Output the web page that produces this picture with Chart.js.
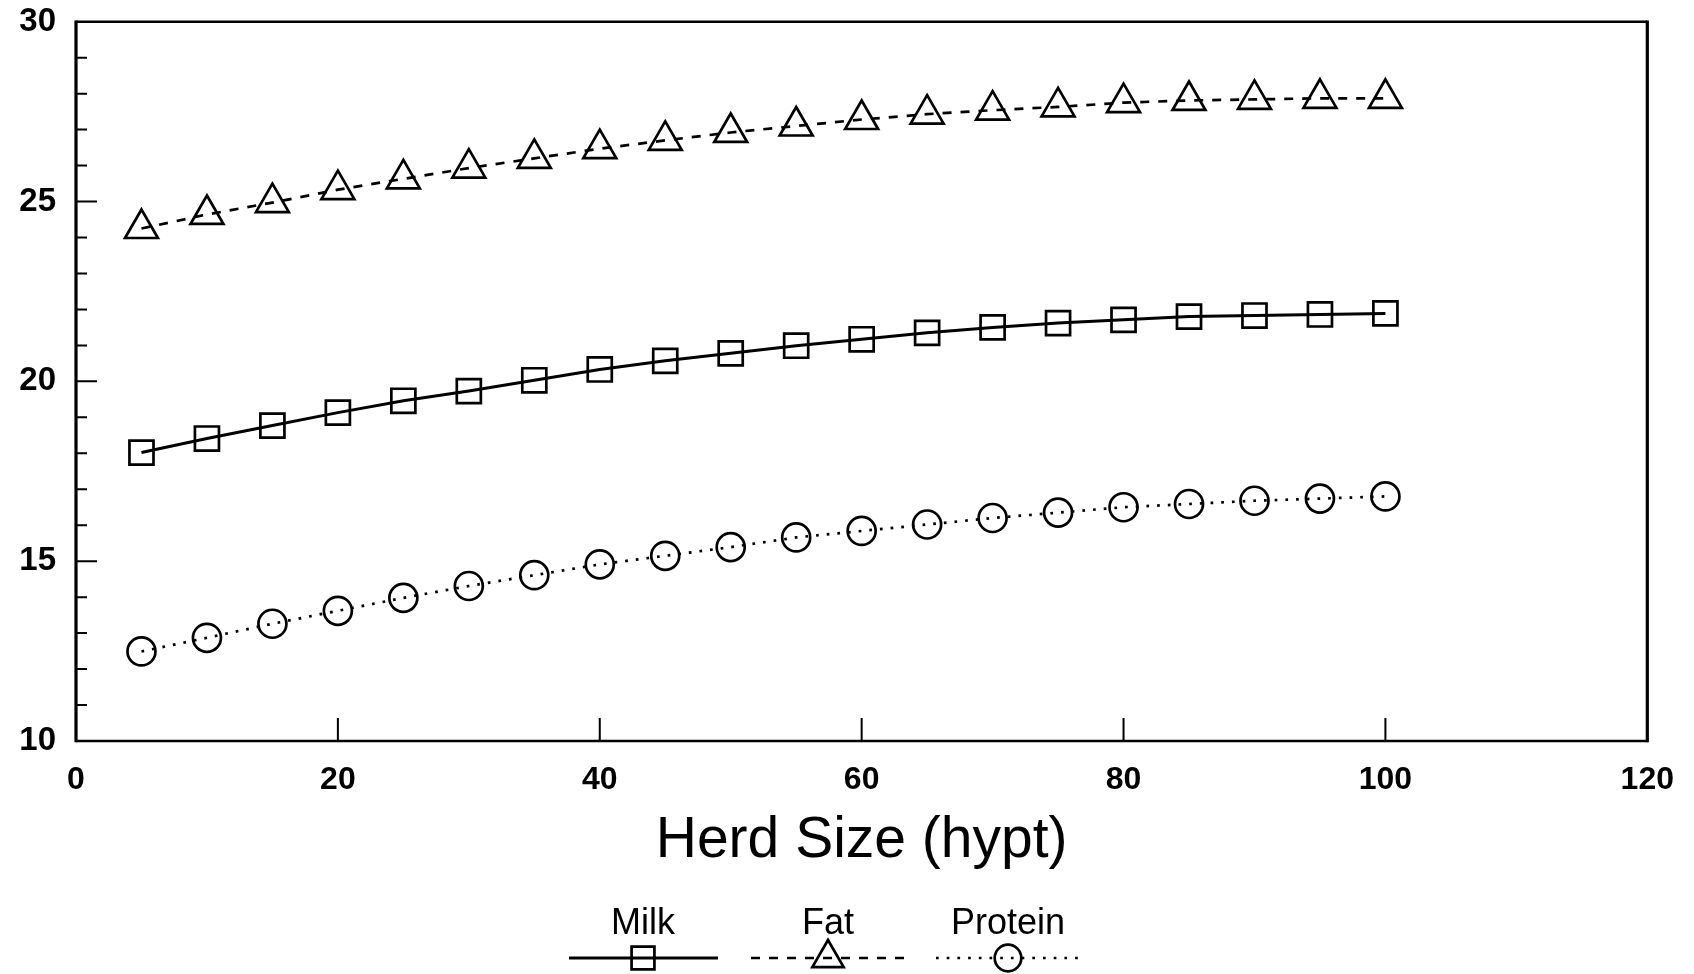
<!DOCTYPE html>
<html>
<head>
<meta charset="utf-8">
<script src="https://cdn.jsdelivr.net/npm/chart.js@4.4.1/dist/chart.umd.min.js"></script>
<style>
  html, body { margin: 0; padding: 0; background: #fff; }
  #wrap { width: 1694px; height: 974px; position: relative; }
</style>
</head>
<body>
<div id="wrap"><canvas id="c" width="1694" height="974"></canvas></div>
<script>
const herdSize = [5,10,15,20,25,30,35,40,45,50,55,60,65,70,75,80,85,90,95,100];
const milk    = [18.02,18.41,18.77,19.13,19.46,19.73,20.03,20.33,20.57,20.78,20.99,21.17,21.35,21.50,21.62,21.71,21.80,21.83,21.86,21.89];
const fat     = [24.25,24.64,24.97,25.33,25.63,25.93,26.20,26.47,26.70,26.92,27.10,27.28,27.43,27.54,27.63,27.75,27.81,27.84,27.87,27.87];
const protein = [12.49,12.87,13.26,13.62,13.98,14.31,14.61,14.91,15.15,15.39,15.66,15.84,16.02,16.20,16.35,16.50,16.59,16.68,16.74,16.80];
const seriesNames = ['Milk','Fat','Protein'];
const xTitle = 'Herd Size (hypt)';
const xTicks = [0,20,40,60,80,100,120];
const yTicks = [10,15,20,25,30];

const FONT = '"Liberation Sans", Arial, Helvetica, sans-serif';
const toPts = (ys) => herdSize.map((x, i) => ({x, y: ys[i]}));

const ds = [
  { label: seriesNames[0], data: toPts(milk), borderColor: '#000', borderWidth: 3, borderDash: [],
    pointStyle: 'rect', pointRadius: 17, pointBorderWidth: 2.7, pointBackgroundColor: 'rgba(0,0,0,0)', pointBorderColor: '#000' },
  { label: seriesNames[1], data: toPts(fat), borderColor: '#000', borderWidth: 2.7, borderDash: [9, 9],
    pointStyle: 'triangle', pointRadius: 19, pointBorderWidth: 2.7, pointBackgroundColor: 'rgba(0,0,0,0)', pointBorderColor: '#000' },
  { label: seriesNames[2], data: toPts(protein), borderColor: '#000', borderWidth: 2.7, borderDash: [2.7, 8],
    pointStyle: 'circle', pointRadius: 14, pointBorderWidth: 2.7, pointBackgroundColor: 'rgba(0,0,0,0)', pointBorderColor: '#000' }
];
ds.forEach(d => { d.fill = false; d.tension = 0; d.showLine = true; });

const frame = {
  id: 'frame',
  afterDraw(chart) {
    const {ctx, chartArea: a, scales: {x, y}} = chart;
    ctx.save();
    ctx.strokeStyle = '#000';
    ctx.lineCap = 'butt';
    ctx.lineWidth = 2.5;
    ctx.beginPath();
    ctx.moveTo(a.left, a.top); ctx.lineTo(a.right, a.top);
    ctx.moveTo(a.left, a.bottom); ctx.lineTo(a.right, a.bottom);
    ctx.stroke();
    ctx.lineWidth = 3.2;
    ctx.beginPath();
    ctx.moveTo(a.left, a.top - 1.25); ctx.lineTo(a.left, a.bottom + 1.25);
    ctx.moveTo(a.right, a.top - 1.25); ctx.lineTo(a.right, a.bottom + 1.25);
    ctx.stroke();
    ctx.lineWidth = 2;
    ctx.beginPath();
    for (let v = y.min; v <= y.max; v += 1) {
      if (v === y.min || v === y.max) continue;
      const py = y.getPixelForValue(v);
      const major = yTicks.includes(v);
      ctx.moveTo(a.left, py); ctx.lineTo(a.left + (major ? 21 : 11), py);
    }
    ctx.stroke();
    ctx.beginPath();
    xTicks.forEach(v => {
      if (v === x.min || v === x.max) return;
      const px = x.getPixelForValue(v);
      ctx.moveTo(px, a.bottom); ctx.lineTo(px, a.bottom - 23);
    });
    ctx.stroke();
    ctx.restore();
  }
};

const legendPos = [
  { cx: 643, x1: 569, x2: 718 },
  { cx: 828, x1: 751, x2: 905 },
  { cx: 1008, x1: 936, x2: 1080 }
];
const legend = {
  id: 'customLegend',
  afterDraw(chart) {
    const {ctx} = chart;
    ctx.save();
    chart.data.datasets.forEach((d, i) => {
      const p = legendPos[i];
      ctx.fillStyle = '#000';
      ctx.font = '36px ' + FONT;
      ctx.textAlign = 'center';
      ctx.textBaseline = 'middle';
      ctx.fillText(d.label, p.cx, 924);
      ctx.strokeStyle = d.borderColor;
      ctx.lineWidth = d.borderWidth;
      ctx.setLineDash(d.borderDash);
      ctx.beginPath();
      ctx.moveTo(p.x1, 958); ctx.lineTo(p.x2, 958);
      ctx.stroke();
      ctx.setLineDash([]);
      ctx.lineWidth = d.pointBorderWidth;
      ctx.fillStyle = 'rgba(0,0,0,0)';
      Chart.helpers.drawPoint(ctx, { pointStyle: d.pointStyle, radius: d.pointRadius * 0.95, rotation: 0, borderWidth: d.pointBorderWidth }, p.cx, 958);
    });
    ctx.restore();
  }
};

new Chart(document.getElementById('c'), {
  type: 'scatter',
  data: { datasets: ds },
  options: {
    responsive: false,
    animation: false,
    devicePixelRatio: 1,
    layout: { padding: { left: 0, right: 46, top: 20, bottom: 0 } },
    plugins: { legend: { display: false }, tooltip: { enabled: false } },
    scales: {
      x: {
        type: 'linear', min: 0, max: 120,
        afterBuildTicks: (s) => { s.ticks = xTicks.map(v => ({value: v})); },
        afterFit: (s) => { s.height = 233; },
        grid: { display: false, drawTicks: false },
        border: { display: false },
        ticks: { color: '#000', padding: 20, font: { family: FONT, size: 32, weight: 'bold' }, maxRotation: 0, autoSkip: false },
        title: { display: true, text: xTitle, color: '#000', font: { family: FONT, size: 57 }, padding: { top: 0, bottom: 99 } }
      },
      y: {
        type: 'linear', min: 10, max: 30,
        afterBuildTicks: (s) => { s.ticks = yTicks.map(v => ({value: v})); },
        afterFit: (s) => { s.width = 76; s.paddingTop = 0; s.paddingBottom = 0; },
        grid: { display: false, drawTicks: false },
        border: { display: false },
        ticks: { color: '#000', padding: 20, font: { family: FONT, size: 33, weight: 'bold' }, autoSkip: false }
      }
    }
  },
  plugins: [frame, legend]
});
</script>
</body>
</html>
